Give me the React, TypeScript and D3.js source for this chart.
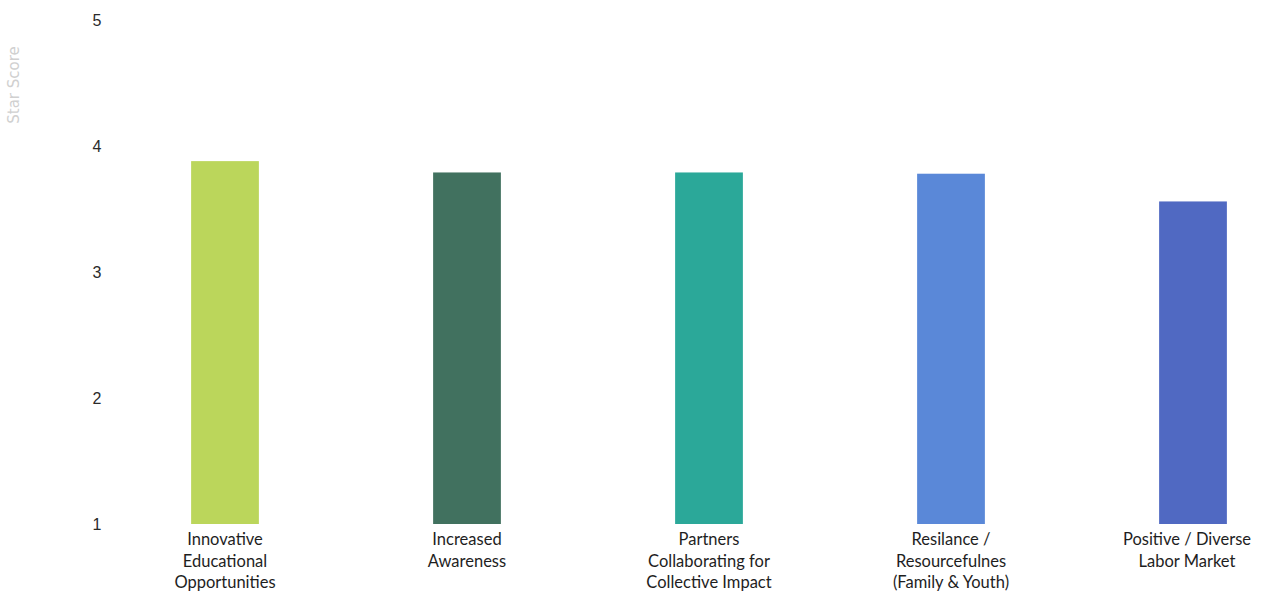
import React from "react";
import * as d3 from "d3";

const categories: string[][] = [
  ["Innovative", "Educational", "Opportunities"],
  ["Increased", "Awareness"],
  ["Partners", "Collaborating for", "Collective Impact"],
  ["Resilance /", "Resourcefulnes", "(Family & Youth)"],
  ["Positive / Diverse", "Labor Market"],
];
const scores: number[] = [3.88, 3.79, 3.79, 3.78, 3.56];
const barColors: string[] = ["#bbd65b", "#41715f", "#2ba899", "#5a88d8", "#5069c2"];
const yTicks: number[] = [1, 2, 3, 4, 5];

const W = 1270;
const H = 596;

export default function App() {
  const x = d3
    .scaleBand<number>()
    .domain(d3.range(categories.length))
    .range([104, 1314])
    .paddingInner(0.72)
    .paddingOuter(0.36);
  const y = d3.scaleLinear().domain([1, 5]).range([524, 20]);

  return (
    <svg
      width={W}
      height={H}
      style={{ position: "absolute", left: 0, top: 0, background: "#fff" }}
      fontFamily="Lato, 'Open Sans', sans-serif"
    >
      <text
        transform={`translate(19,85) rotate(-90)`}
        textAnchor="middle"
        fontSize={15}
        fill="#d0d0d0"
        fontFamily="'DejaVu Sans', sans-serif"
      >
        Star Score
      </text>
      {yTicks.map((t) => (
        <text
          key={t}
          x={97}
          y={y(t)}
          dy="0.36em"
          textAnchor="middle"
          fontSize={16}
          fill="#2a2a2a"
          fontFamily="'Liberation Sans', Arial, sans-serif"
        >
          {t}
        </text>
      ))}
      {scores.map((v, i) => (
        <rect
          key={i}
          x={x(i)!}
          y={y(v)}
          width={x.bandwidth()}
          height={y(1) - y(v)}
          fill={barColors[i]}
        />
      ))}
      {categories.map((lines, i) => (
        <text
          key={i}
          x={x(i)! + x.bandwidth() / 2}
          y={545}
          textAnchor="middle"
          fontSize={16.5}
          fill="#1e1e1e"
        >
          {lines.map((ln, j) => (
            <tspan key={j} x={x(i)! + x.bandwidth() / 2 - (i === 4 ? 6 : 0)} dy={j === 0 ? 0 : 21.5}>
              {ln}
            </tspan>
          ))}
        </text>
      ))}
    </svg>
  );
}
